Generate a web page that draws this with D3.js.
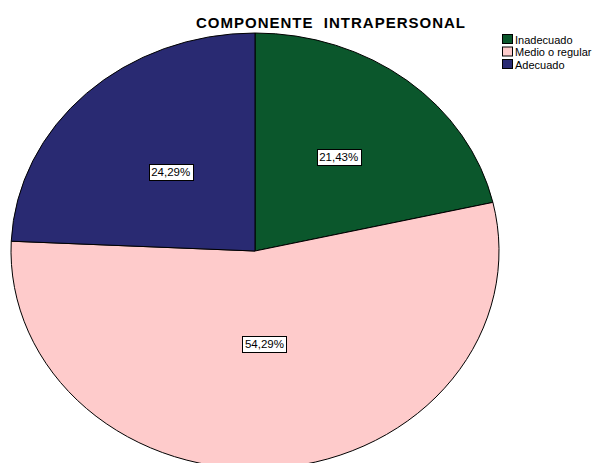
<!DOCTYPE html>
<html>
<head>
<meta charset="utf-8">
<script src="https://cdn.jsdelivr.net/npm/d3@7"></script>
<style>
  body { margin: 0; background: #fff; }
  text { font-family: "Liberation Sans", Arial, sans-serif; }
</style>
</head>
<body>
<svg class="chart"></svg>
<script>
var categories = ["Inadecuado", "Medio o regular", "Adecuado"];
var percents = [21.43, 54.29, 24.29];
var labels = ["21,43%", "54,29%", "24,29%"];
var colors = ["#0b572c", "#fecbcb", "#292a72"];

var width = 593, height = 463;
var cx = 255, cy = 251, rx = 244, ry = 218;
// how far out each label sits, as a fraction of the radius
var labelR = [0.55, 0.43, 0.5];

var svg = d3.select(".chart").attr("width", width).attr("height", height);

svg.append("text")
   .attr("x", 331).attr("y", 28)
   .attr("text-anchor", "middle")
   .style("font-size", "15px").style("font-weight", "bold")
   .style("letter-spacing", "1px")
   .style("white-space", "pre")
   .text("COMPONENTE  INTRAPERSONAL");

var pie = d3.pie().sort(null).value(function(d) { return d; });
var arcs = pie(percents);
var arc = d3.arc().innerRadius(0).outerRadius(1);

var g = svg.append("g")
   .attr("transform", "translate(" + cx + "," + cy + ") scale(" + rx + "," + ry + ")");

g.selectAll("path").data(arcs).enter().append("path")
   .attr("d", arc)
   .attr("fill", function(d, i) { return colors[i]; })
   .attr("stroke", "#000")
   .attr("stroke-width", 1)
   .attr("vector-effect", "non-scaling-stroke");

// labels with white boxes
arcs.forEach(function(d, i) {
  var a = (d.startAngle + d.endAngle) / 2;
  var x = cx + Math.sin(a) * labelR[i] * rx;
  var y = cy - Math.cos(a) * labelR[i] * ry;
  var lg = svg.append("g");
  lg.append("rect")
     .attr("x", Math.round(x - 22) + 0.5).attr("y", Math.round(y - 8) + 0.5)
     .attr("width", 44).attr("height", 16)
     .attr("fill", "#fff").attr("stroke", "#000").attr("stroke-width", 1);
  lg.append("text")
     .attr("x", x).attr("y", y + 4)
     .attr("text-anchor", "middle")
     .style("font-size", "11.5px")
     .text(labels[i]);
});

// legend
var legend = svg.append("g").attr("transform", "translate(502,34)");
categories.forEach(function(c, i) {
  legend.append("rect")
     .attr("x", 0.5).attr("y", i * 12.5 + 0.5)
     .attr("width", 10).attr("height", 9)
     .attr("fill", colors[i]).attr("stroke", "#000").attr("stroke-width", 1);
  legend.append("text")
     .attr("x", 13).attr("y", i * 12.5 + 9.5)
     .style("font-size", "11px")
     .text(c);
});
</script>
</body>
</html>
